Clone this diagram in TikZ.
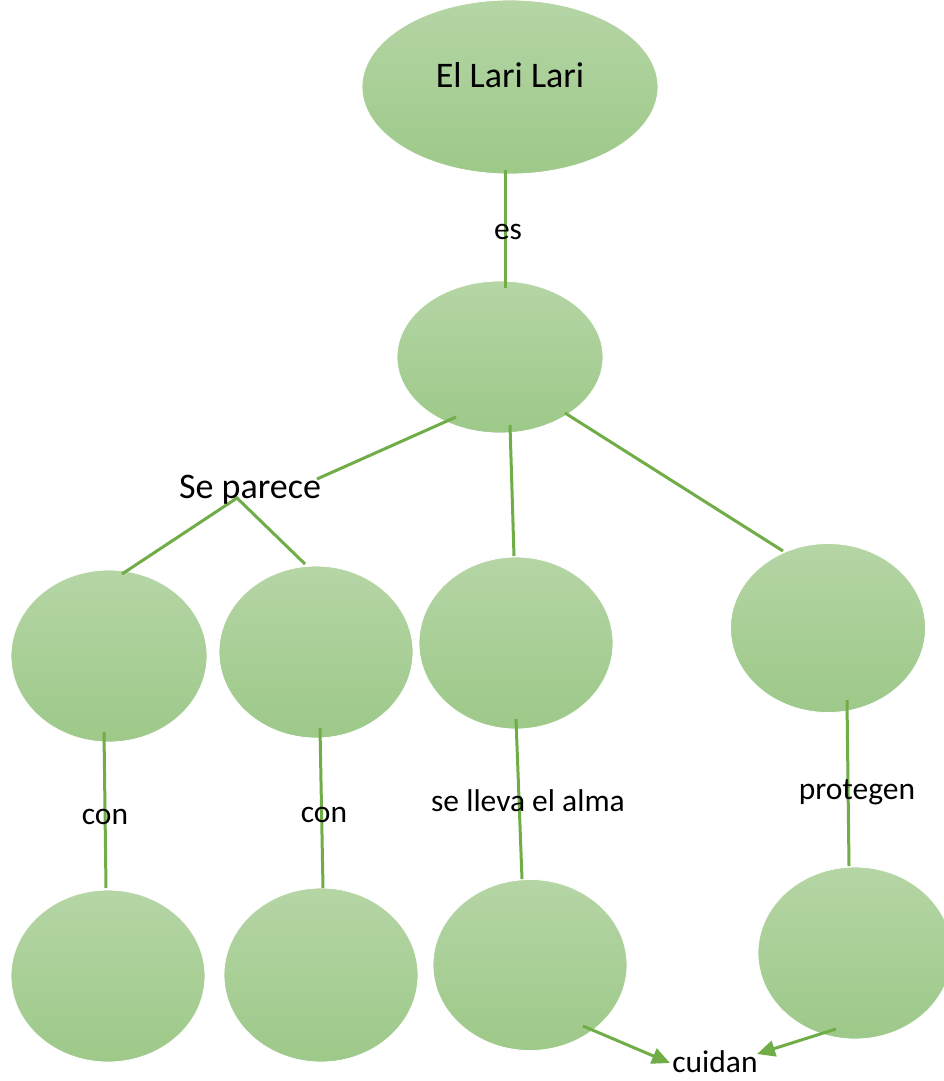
\documentclass[tikz,border=0pt]{standalone}
\usepackage{fontspec}
\setmainfont{Carlito}
\usetikzlibrary{shapes.geometric,arrows.meta}
\definecolor{gtop}{RGB}{181,213,165}
\definecolor{gbot}{RGB}{157,201,137}
\definecolor{lgreen}{RGB}{112,173,71}
\tikzset{
  bubble/.style={ellipse, draw=white, line width=0.8pt, top color=gtop, bottom color=gbot, inner sep=0pt},
  link/.style={draw=lgreen, line width=3pt},
  arr/.style={link, -{Triangle[length=18pt,width=16pt]}},
  biglbl/.style={font=\fontsize{36}{40}\selectfont, inner sep=0pt, anchor=base},
  lbl/.style={font=\fontsize{31.5}{36}\selectfont, inner sep=0pt, anchor=base},
}
\begin{document}
\begin{tikzpicture}[x=1pt,y=-1pt]
\useasboundingbox[fill=white] (0,0) rectangle (943,1081);
% ellipses
\node[bubble, minimum width=296, minimum height=174] (top) at (510,87) {};
\node[bubble, minimum width=206, minimum height=152] (mid) at (500,357) {};
\node[bubble, minimum width=196, minimum height=172] (a) at (109,656) {};
\node[bubble, minimum width=194, minimum height=172] (b) at (316,652) {};
\node[bubble, minimum width=194, minimum height=172] (c) at (516,643) {};
\node[bubble, minimum width=195, minimum height=169] (d) at (828,628) {};
\node[bubble, minimum width=194, minimum height=172] (e) at (108,976) {};
\node[bubble, minimum width=194, minimum height=174] (f) at (321,975) {};
\node[bubble, minimum width=194, minimum height=171] (g) at (530,965) {};
\node[bubble, minimum width=194, minimum height=172] (h) at (855,953) {};
% connector coordinates
\coordinate (t1) at (505,170);
\coordinate (t2) at (505,288);
\coordinate (m1) at (456,417);
\coordinate (m2) at (317,479);
\coordinate (v) at (237,498);
\coordinate (a1) at (122,574);
\coordinate (b1) at (305,564);
\coordinate (m3) at (510,425);
\coordinate (c1) at (514,556);
\coordinate (m4) at (565,413);
\coordinate (d1) at (783,551);
\coordinate (a2) at (104,732);
\coordinate (e1) at (106,888);
\coordinate (b2) at (320,728);
\coordinate (f1) at (323,888);
\coordinate (c2) at (516,719);
\coordinate (g1) at (522,879);
\coordinate (d2) at (847,700);
\coordinate (h1) at (849,866);
\coordinate (g2) at (583,1026);
\coordinate (cu1) at (670,1063);
\coordinate (h2) at (836,1029);
\coordinate (cu2) at (757,1054);
% connectors
\draw[link] (t1) -- (t2);
\draw[link] (m1) -- (m2);
\draw[link] (a1) -- (v) -- (b1);
\draw[link] (m3) -- (c1);
\draw[link] (m4) -- (d1);
\draw[link] (a2) -- (e1);
\draw[link] (b2) -- (f1);
\draw[link] (c2) -- (g1);
\draw[link] (d2) -- (h1);
\draw[arr] (g2) -- (cu1);
\draw[arr] (h2) -- (cu2);
% texts
\node[biglbl] (toptext) at (510,88) {El Lari Lari};
\node[lbl] (es) at (508,239) {es};
\node[biglbl] (separece) at (250,498) {Se parece};
\node[lbl] (con1) at (105,824) {con};
\node[lbl] (con2) at (324,822) {con};
\node[lbl] (lleva) at (528,811) {se lleva el alma};
\node[lbl] (protegen) at (857,799) {protegen};
\node[lbl] (cuidan) at (715,1072) {cuidan};
\end{tikzpicture}
\end{document}
